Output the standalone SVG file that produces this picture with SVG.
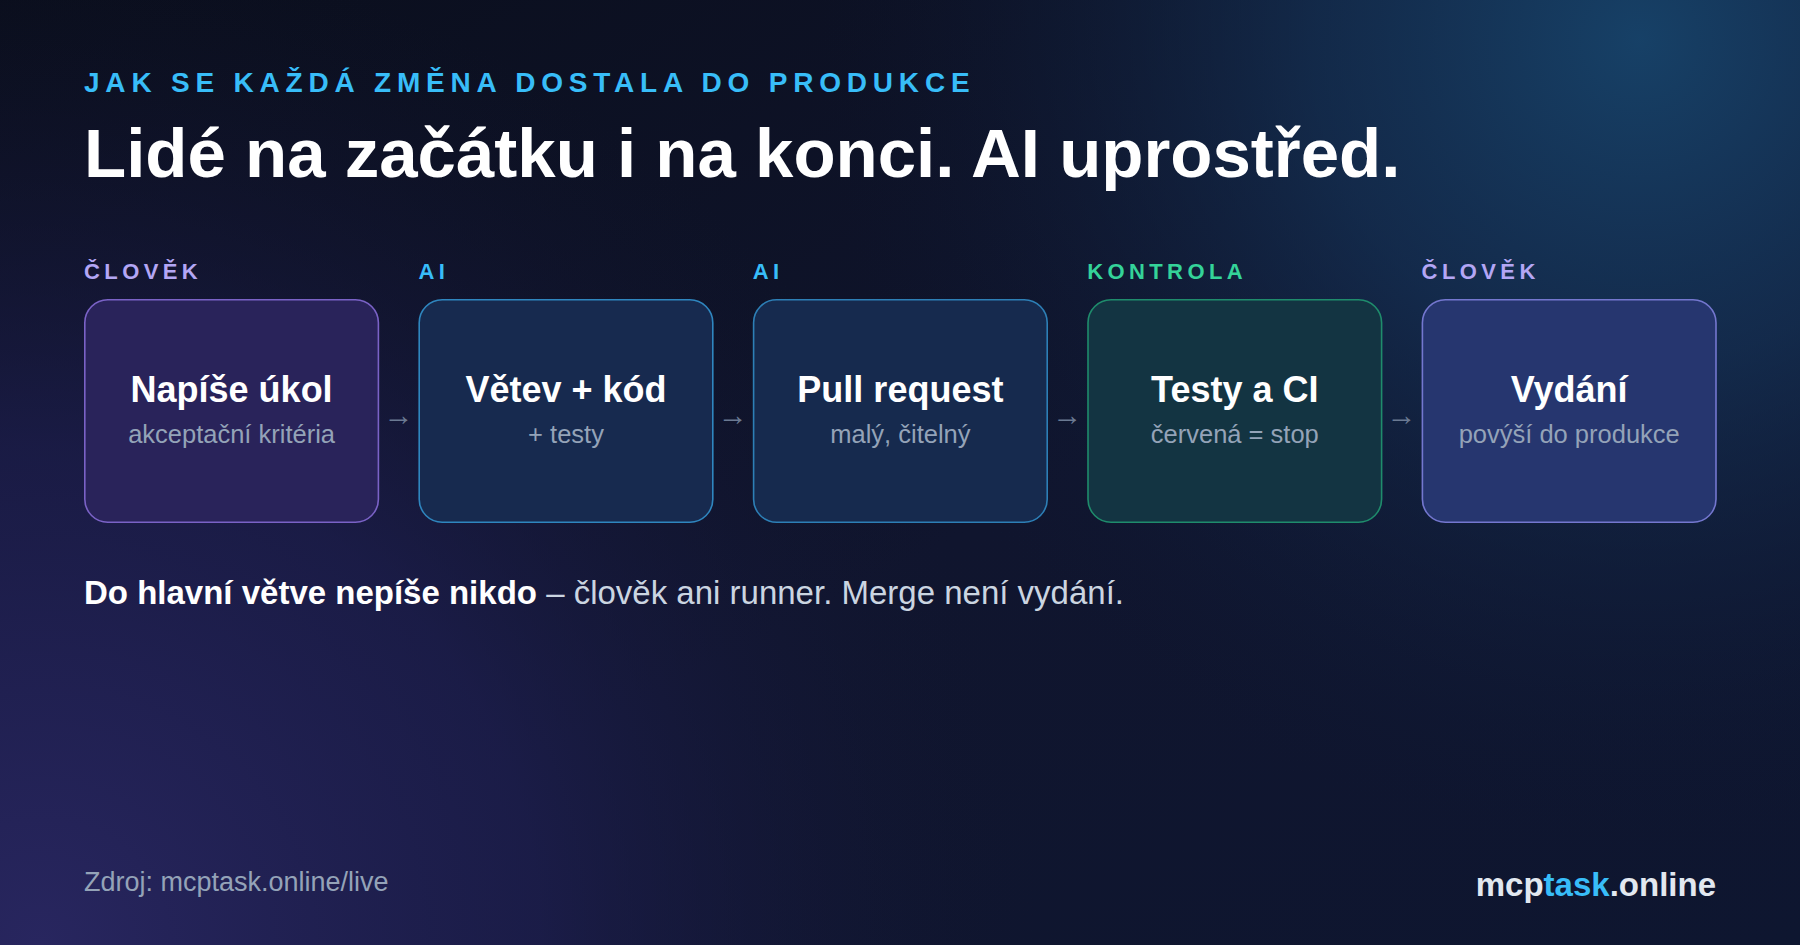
<svg xmlns="http://www.w3.org/2000/svg" width="1800" height="945" viewBox="0 0 1800 945">
  <defs>
    <linearGradient id="bgBase" x1="0" y1="0" x2="1" y2="1">
      <stop offset="0" stop-color="#0a0e1c"/>
      <stop offset="0.55" stop-color="#10152e"/>
      <stop offset="1" stop-color="#0e1630"/>
    </linearGradient>
    <radialGradient id="glowTR" cx="1640" cy="40" r="820" gradientUnits="userSpaceOnUse">
      <stop offset="0" stop-color="#17436a" stop-opacity="0.95"/>
      <stop offset="0.4" stop-color="#15355a" stop-opacity="0.65"/>
      <stop offset="1" stop-color="#0e1630" stop-opacity="0"/>
    </radialGradient>
    <radialGradient id="glowBL" cx="40" cy="945" r="1000" gradientUnits="userSpaceOnUse">
      <stop offset="0" stop-color="#28265f" stop-opacity="1"/>
      <stop offset="0.5" stop-color="#1f1f52" stop-opacity="0.7"/>
      <stop offset="1" stop-color="#12152e" stop-opacity="0"/>
    </radialGradient>
    <style>
      .eyebrow { font-family: "Liberation Sans", Arial, sans-serif; font-weight: 700; font-size: 28px; letter-spacing: 5.8px; fill: #38bdf8; }
      .heading { font-family: "Liberation Sans", Arial, sans-serif; font-weight: 700; font-size: 69px; fill: #ffffff; }
      .stage { font-family: "Liberation Sans", Arial, sans-serif; font-weight: 700; font-size: 22px; letter-spacing: 4.4px; }
      .human { fill: #b3a6f5; }
      .ai { fill: #38bdf8; }
      .check { fill: #34d399; }
      .box { stroke-width: 1.6; }
      .title { font-family: "Liberation Sans", Arial, sans-serif; font-weight: 700; font-size: 36px; fill: #ffffff; text-anchor: middle; }
      .sub { font-family: "Liberation Sans", Arial, sans-serif; font-size: 25.5px; fill: #94a3b8; text-anchor: middle; }
      .arrow { font-family: "Liberation Sans", Arial, sans-serif; font-size: 30px; fill: #6b7a93; text-anchor: middle; }
      .note { font-family: "Liberation Sans", Arial, sans-serif; font-size: 33px; fill: #cbd5e1; }
      .note-b { font-weight: 700; fill: #ffffff; }
      .source { font-family: "Liberation Sans", Arial, sans-serif; font-size: 27px; fill: #94a3b8; }
      .brand { font-family: "Liberation Sans", Arial, sans-serif; font-weight: 700; font-size: 33px; fill: #e2e8f0; text-anchor: end; }
    </style>
  </defs>

  <g id="background">
    <rect x="0" y="0" width="1800" height="945" fill="url(#bgBase)"/>
    <rect x="0" y="0" width="1800" height="945" fill="url(#glowBL)"/>
    <rect x="0" y="0" width="1800" height="945" fill="url(#glowTR)"/>
  </g>

  <g id="header">
    <text class="eyebrow" x="84" y="92">JAK SE KAŽDÁ ZMĚNA DOSTALA DO PRODUKCE</text>
    <text class="heading" x="84" y="177">Lidé na začátku i na konci. AI uprostřed.</text>
  </g>

  <g id="node-ukol">
    <text class="stage human" x="84" y="279">ČLOVĚK</text>
    <rect class="box" x="84.8" y="299.8" width="293.6" height="222.4" rx="23" fill="#29235a" stroke="#7a62c6"/>
    <text class="title" x="231.6" y="402">Napíše úkol</text>
    <text class="sub" x="231.6" y="443">akceptační kritéria</text>
  </g>

  <g id="node-kod">
    <text class="stage ai" x="418.4" y="279">AI</text>
    <rect class="box" x="419.2" y="299.8" width="293.6" height="222.4" rx="23" fill="#172a4f" stroke="#2f86bf"/>
    <text class="title" x="566" y="402">Větev + kód</text>
    <text class="sub" x="566" y="443">+ testy</text>
  </g>

  <g id="node-pr">
    <text class="stage ai" x="752.8" y="279">AI</text>
    <rect class="box" x="753.6" y="299.8" width="293.6" height="222.4" rx="23" fill="#162a4e" stroke="#2d7fb6"/>
    <text class="title" x="900.4" y="402">Pull request</text>
    <text class="sub" x="900.4" y="443">malý, čitelný</text>
  </g>

  <g id="node-ci">
    <text class="stage check" x="1087.2" y="279">KONTROLA</text>
    <rect class="box" x="1088" y="299.8" width="293.6" height="222.4" rx="23" fill="#133442" stroke="#1f8c6c"/>
    <text class="title" x="1234.8" y="402">Testy a CI</text>
    <text class="sub" x="1234.8" y="443">červená = stop</text>
  </g>

  <g id="node-vydani">
    <text class="stage human" x="1421.6" y="279">ČLOVĚK</text>
    <rect class="box" x="1422.4" y="299.8" width="293.6" height="222.4" rx="23" fill="#26366f" stroke="#7477cf"/>
    <text class="title" x="1569.2" y="402">Vydání</text>
    <text class="sub" x="1569.2" y="443">povýší do produkce</text>
  </g>

  <g id="connectors">
    <text class="arrow" x="398.4" y="425">→</text>
    <text class="arrow" x="732.8" y="425">→</text>
    <text class="arrow" x="1067.2" y="425">→</text>
    <text class="arrow" x="1401.6" y="425">→</text>
  </g>

  <g id="note">
    <text class="note" x="84" y="604"><tspan class="note-b">Do hlavní větve nepíše nikdo</tspan> – člověk ani runner. Merge není vydání.</text>
  </g>

  <g id="footer">
    <text class="source" x="84" y="891">Zdroj: mcptask.online/live</text>
    <text class="brand" x="1716" y="896">mcp<tspan fill="#38bdf8">task</tspan>.online</text>
  </g>
</svg>
